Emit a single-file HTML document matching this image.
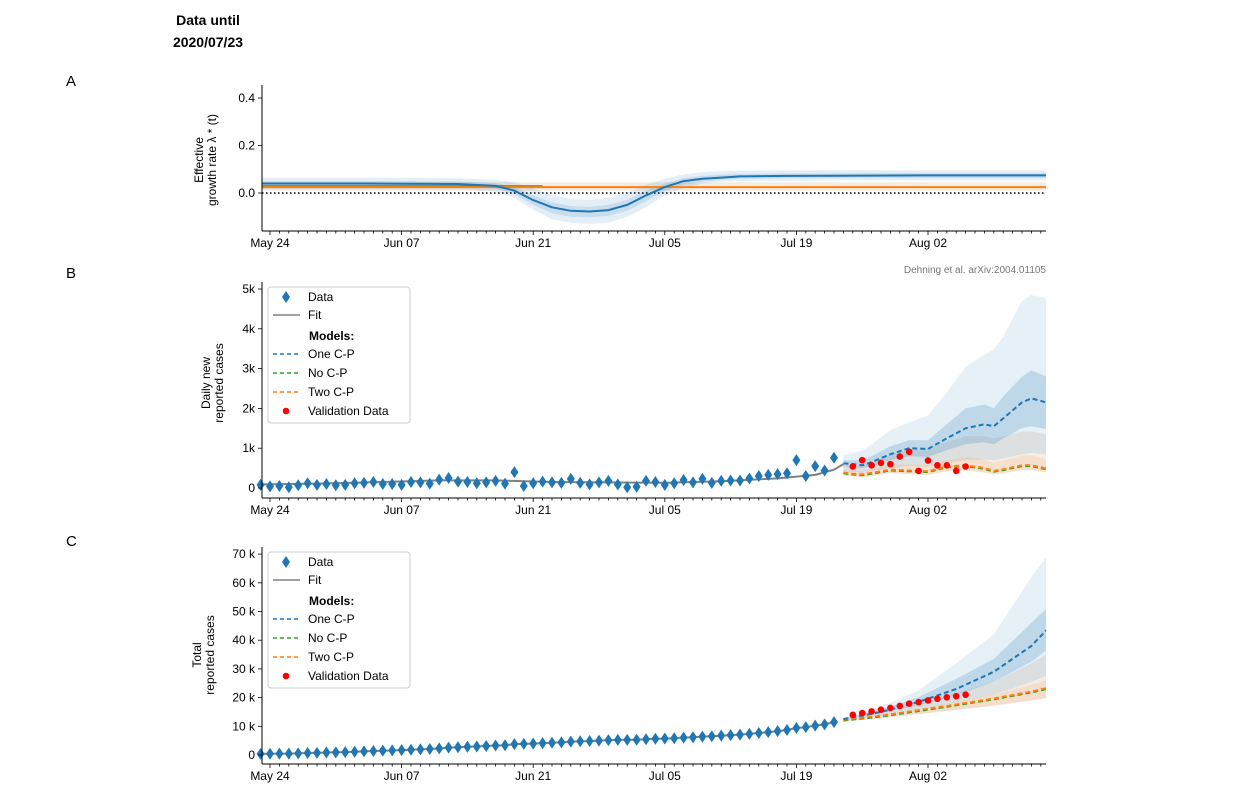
<!DOCTYPE html>
<html><head><meta charset="utf-8"><style>
body{margin:0;background:#fff;}
svg{display:block;font-family:"Liberation Sans","DejaVu Sans",sans-serif;}
</style></head><body>
<svg id="fig" width="1245" height="807" viewBox="0 0 1245 807" xmlns="http://www.w3.org/2000/svg">
<defs><clipPath id="plotclip"><rect x="262" y="0" width="784" height="807"/></clipPath></defs>
<text x="208" y="25" text-anchor="middle" font-weight="bold" font-size="14">Data until</text>
<text x="208" y="47" text-anchor="middle" font-weight="bold" font-size="14">2020/07/23</text>
<text x="66" y="86" font-size="15">A</text>
<text x="66" y="278" font-size="15">B</text>
<text x="66" y="546" font-size="15">C</text>
<text x="1046" y="273" text-anchor="end" font-size="10" fill="#777">Dehning et al. arXiv:2004.01105</text>
<g id="gA"></g>
<g id="gB"></g>
<g id="gC"></g>
</svg>
<script>
// ---- shared x (days since May 24) ----
const xTickLabels = ["May 24","Jun 07","Jun 21","Jul 05","Jul 19","Aug 02"];
const xTickDays = [0,14,28,42,56,70];
// ---- Panel A data ----
const lamDays = [-1,10,20,24,26,28,30,32,34,36,38,40,42,44,46,48,50,55,60,70,83];
const lamBlue = [0.04,0.04,0.038,0.03,0.01,-0.03,-0.06,-0.075,-0.078,-0.072,-0.05,-0.01,0.025,0.05,0.06,0.065,0.07,0.072,0.073,0.074,0.074];
const lamBlueHi95 = [0.065,0.065,0.062,0.055,0.045,0.02,-0.01,-0.025,-0.03,-0.02,0.0,0.035,0.06,0.078,0.088,0.092,0.094,0.095,0.096,0.096,0.096];
const lamBlueLo95 = [0.015,0.015,0.015,0.005,-0.02,-0.07,-0.11,-0.125,-0.13,-0.125,-0.1,-0.06,-0.01,0.02,0.04,0.048,0.05,0.052,0.053,0.054,0.054];
const lamBlueHi50 = [0.05,0.05,0.049,0.042,0.025,-0.01,-0.04,-0.055,-0.058,-0.05,-0.028,0.01,0.04,0.062,0.072,0.077,0.08,0.082,0.083,0.084,0.084];
const lamBlueLo50 = [0.03,0.03,0.028,0.018,-0.005,-0.05,-0.085,-0.1,-0.102,-0.096,-0.075,-0.035,0.008,0.035,0.048,0.055,0.06,0.062,0.063,0.064,0.064];
const lamOrange = 0.025, lamGreen = 0.028;
const aTicks = [0.0,0.2,0.4];
// ---- Panel B data (daily new cases, May 23 .. Jul 23) ----
const dataDays = Array.from({length:62},(_,i)=>i-1);
const daily = [80,40,50,20,70,120,80,100,70,80,120,130,150,100,100,80,150,140,110,210,250,160,150,120,140,180,110,400,50,120,160,140,130,230,130,90,140,180,90,20,30,180,150,80,120,200,140,230,130,180,190,190,240,300,330,350,370,700,300,550,440,760];
const fitDays = [-1,5,12,18,24,30,36,42,48,54,58,60,61];
const fitVals = [90,110,150,190,190,150,140,130,170,240,330,460,600];
const fDays = [61,62,63,64,66,68,70,72,74,76,77,78,80,81,82.6];
const oneMed = [620,600,570,650,850,1000,980,1250,1500,1600,1550,1750,2150,2250,2150];
const oneHi95 = [830,880,940,1100,1450,1650,1820,2400,3050,3350,3470,3800,4700,4850,4770];
const oneHi50 = [700,690,700,800,1050,1200,1200,1600,2000,2100,2000,2300,2800,2960,2800];
const oneLo50 = [540,520,500,550,700,800,780,950,1100,1150,1100,1250,1500,1550,1480];
const oneLo95 = [430,400,380,420,500,560,540,620,700,720,690,740,850,880,840];
const twoMed = [390,360,340,380,460,440,420,540,570,500,430,470,570,570,490];
const twoHi95 = [560,540,560,650,850,950,1000,1150,1300,1300,1250,1300,1420,1420,1350];
const twoHi50 = [460,430,420,470,580,590,580,700,780,720,640,690,820,820,720];
const twoLo95 = [310,290,270,300,370,350,330,420,440,390,340,370,450,450,390];
const noMed = [370,340,320,360,440,420,400,520,550,480,410,450,550,550,470];
const valDays = [62,63,64,65,66,67,68,69,70,71,72,73,74];
const valDaily = [540,700,570,630,600,790,910,430,690,570,570,430,540];
const bTicks = [0,1000,2000,3000,4000,5000];
const bTickLabels = ["0","1k","2k","3k","4k","5k"];
// ---- Panel C data ----
const totalStart = 300;
const cMed = [12500,15000,18500,23000,29000,38000,43500];
const cDays = [61,65,69,73,77,81,82.6];
const cHi95 = [13000,16800,22500,32000,42000,62000,69000];
const cHi50 = [12800,15700,20200,26500,33500,46000,51000];
const cLo50 = [12300,14500,17300,20800,25500,32500,36500];
const cLo95 = [12000,13700,15800,18300,21000,25500,27500];
const cModMed = [12000,13400,15300,17300,19400,21800,23000];
const cModHi95 = [12300,14500,17600,21500,25500,32000,35000];
const cModLo95 = [11700,12800,14200,15700,17200,19000,19800];
const cModHi50 = [12100,13800,16000,18500,21000,24500,26000];
const valTotal = [14000,14600,15200,15800,16400,17100,17900,18400,19000,19600,20100,20500,21000];
const cTicks = [0,10000,20000,30000,40000,50000,60000,70000];
const cTickLabels = ["0","10 k","20 k","30 k","40 k","50 k","60 k","70 k"];

const NS="http://www.w3.org/2000/svg";
function mk(parent,tag,attrs){const e=document.createElementNS(NS,tag);for(const k in attrs)e.setAttribute(k,attrs[k]);parent.appendChild(e);return e;}
const X0=262,X1=1046;
function xs(d){return 270+d*9.4;}
function axes(g,top,bottom,ys,ticks,labels,name){
  let e=mk(g,'line',{x1:X0,y1:top,x2:X0,y2:bottom,stroke:'#000','stroke-width':1});
  
  
  e=mk(g,'line',{x1:X0,y1:bottom,x2:X1,y2:bottom,stroke:'#000','stroke-width':1});
  
  
  for(let d=-1;d<=82;d++){const x=xs(d);if(x<X0||x>X1)continue;
    const major=xTickDays.includes(d);
    mk(g,'line',{x1:x,y1:bottom,x2:x,y2:bottom+(major?4:2.5),stroke:'#000','stroke-width':0.8});}
  xTickLabels.forEach((l,i)=>{const t=mk(g,'text',{x:xs(xTickDays[i]),y:bottom+16,'text-anchor':'middle','font-size':12});t.textContent=l;
    
    });
  ticks.forEach((v,i)=>{const y=ys(v);mk(g,'line',{x1:X0-4,y1:y,x2:X0,y2:y,stroke:'#000','stroke-width':0.8});
    const t=mk(g,'text',{x:X0-7,y:y+4,'text-anchor':'end','font-size':12});t.textContent=labels[i];
    
    });
}
function ylabel(g,x,ymid,l1,l2,name){
  const t=mk(g,'text',{transform:`translate(${x},${ymid}) rotate(-90)`,'text-anchor':'middle','font-size':12});
  
  
  const a=mk(t,'tspan',{x:0,dy:0});a.textContent=l1;const b=mk(t,'tspan',{x:0,dy:13});b.textContent=l2;
}
function pathLine(days,vals,ys){return days.map((d,i)=>(i?'L':'M')+xs(d).toFixed(1)+','+ys(vals[i]).toFixed(1)).join(' ');}
function band(g,days,lo,hi,ys,fill,op,name){
  let d=pathLine(days,hi,ys);for(let i=days.length-1;i>=0;i--)d+=' L'+xs(days[i]).toFixed(1)+','+ys(lo[i]).toFixed(1);
  const e=mk(g,'path',{d:d+' Z',fill:fill,'fill-opacity':op,stroke:'none','clip-path':'url(#plotclip)'});
  
  
}
function line(g,days,vals,ys,color,w,dash,name){
  const e=mk(g,'path',{d:pathLine(days,vals,ys),fill:'none',stroke:color,'stroke-width':w,'stroke-dasharray':dash||'none','stroke-linejoin':'round','clip-path':'url(#plotclip)'});
  
  
}
function diamond(g,x,y){const e=mk(g,'path',{d:`M${x},${y-6} L${x+4},${y} L${x},${y+6} L${x-4},${y} Z`,fill:'#1f77b4'});
  
  }
function dot(g,x,y){const e=mk(g,'circle',{cx:x,cy:y,r:3.3,fill:'#ff0000'});
  
  }
function legend(g,top,name){
  const box=mk(g,'rect',{x:268,y:top,width:142,height:136,rx:3,fill:'#fff',stroke:'#ccc','stroke-width':1});
  
  
  const rows=[['diamond','Data'],['fit','Fit'],['head','Models:'],['#1f77b4','One C-P'],['#2ca02c','No C-P'],['#ff7f0e','Two C-P'],['dot','Validation Data']];
  const ry=[10,28,49,67,86,105,124];
  rows.forEach((r,i)=>{const y=top+ry[i];
    if(r[0]==='diamond')diamond(g,286,y);
    else if(r[0]==='dot')dot(g,286,y);
    else if(r[0]==='fit')mk(g,'line',{x1:273,y1:y,x2:300,y2:y,stroke:'#808080','stroke-width':1.5});
    else if(r[0]!=='head')mk(g,'line',{x1:273,y1:y,x2:300,y2:y,stroke:r[0],'stroke-width':1.5,'stroke-dasharray':'4,3'});
    const t=mk(g,'text',{x:r[0]==='head'?309:308,y:y+4,'font-size':12,'font-weight':r[0]==='head'?'bold':'normal'});t.textContent=r[1];
    
    });
}
// ---- Panel A ----
(function(){
  const g=document.getElementById('gA');
  const ys=v=>193-v*237.5;
  const fd=[-1,83];
  band(g,fd,[0.01,0.01],[0.045,0.045],ys,'#c8b89c',0.25,'two-cp-band');
  band(g,lamDays,lamBlueLo95,lamBlueHi95,ys,'#1f77b4',0.12,'one-cp-band-95');
  band(g,lamDays,lamBlueLo50,lamBlueHi50,ys,'#1f77b4',0.15,'one-cp-band-50');
  const z=mk(g,'line',{x1:X0,y1:ys(0),x2:X1,y2:ys(0),stroke:'#000','stroke-width':1.5,'stroke-dasharray':'1.5,2.5'});
  
  
  line(g,[-1,29],[lamGreen,lamGreen],ys,'#2ca02c',2,null,'no-cp-line');
  line(g,fd,[lamOrange,lamOrange],ys,'#ff7f0e',2,null,'two-cp-line');
  line(g,lamDays,lamBlue,ys,'#1f77b4',2,null,'one-cp-line');
  axes(g,85,231,ys,aTicks,aTicks.map(v=>v.toFixed(1)),'panel-a');
  ylabel(g,203,160,'Effective','growth rate λ * (t)','panel-a-y-title');
})();
// ---- Panel B ----
(function(){
  const g=document.getElementById('gB');
  const ys=v=>488-v*0.0398;
  band(g,fDays,twoLo95,twoHi95,ys,'#c8a888',0.2,'two-cp-band-95');
  band(g,fDays,oneLo95,oneHi95,ys,'#1f77b4',0.11,'one-cp-band-95');
  band(g,fDays,oneLo50,oneHi50,ys,'#1f77b4',0.2,'one-cp-band-50');
  band(g,fDays,twoLo95,twoHi50,ys,'#ff7f0e',0.12,'two-cp-band-50');
  line(g,fitDays,fitVals,ys,'#808080',2,null,'fit-line');
  line(g,fDays,noMed,ys,'#2ca02c',2,'5,3','no-cp-line');
  line(g,fDays,twoMed,ys,'#ff7f0e',2,'5,3','two-cp-line');
  line(g,fDays,oneMed,ys,'#1f77b4',2,'5,3','one-cp-line');
  dataDays.forEach((d,i)=>{const x=xs(d);if(x>=X0-4)diamond(g,x,ys(daily[i]));});
  valDays.forEach((d,i)=>dot(g,xs(d),ys(valDaily[i])));
  axes(g,282,498,ys,bTicks,bTickLabels,'panel-b');
  ylabel(g,210,383,'Daily new','reported cases','panel-b-y-title');
  legend(g,287,'panel-b-legend');
})();
// ---- Panel C ----
(function(){
  const g=document.getElementById('gC');
  const ys=v=>755-v*0.00287;
  const totals=[];let s=totalStart;daily.forEach(v=>{s+=v;totals.push(s);});
  band(g,cDays,cModLo95,cModHi95,ys,'#c8a888',0.22,'model-band-95');
  band(g,cDays,cLo95,cHi95,ys,'#1f77b4',0.11,'one-cp-band-95');
  band(g,cDays,cLo50,cHi50,ys,'#1f77b4',0.2,'one-cp-band-50');
  band(g,cDays,cModLo95,cModHi50,ys,'#ff7f0e',0.12,'model-band-50');
  line(g,dataDays,totals,ys,'#808080',2,null,'fit-line');
  line(g,cDays,cModMed,ys,'#2ca02c',2,'5,3','no-cp-line');
  line(g,cDays,cModMed.map(v=>v+300),ys,'#ff7f0e',2,'5,3','two-cp-line');
  line(g,cDays,cMed,ys,'#1f77b4',2,'5,3','one-cp-line');
  dataDays.forEach((d,i)=>{const x=xs(d);if(x>=X0-4)diamond(g,x,ys(totals[i]));});
  valDays.forEach((d,i)=>dot(g,xs(d),ys(valTotal[i])));
  axes(g,547,764,ys,cTicks,cTickLabels,'panel-c');
  ylabel(g,201,655,'Total','reported cases','panel-c-y-title');
  legend(g,552,'panel-c-legend');
})();
</script>
</body></html>
